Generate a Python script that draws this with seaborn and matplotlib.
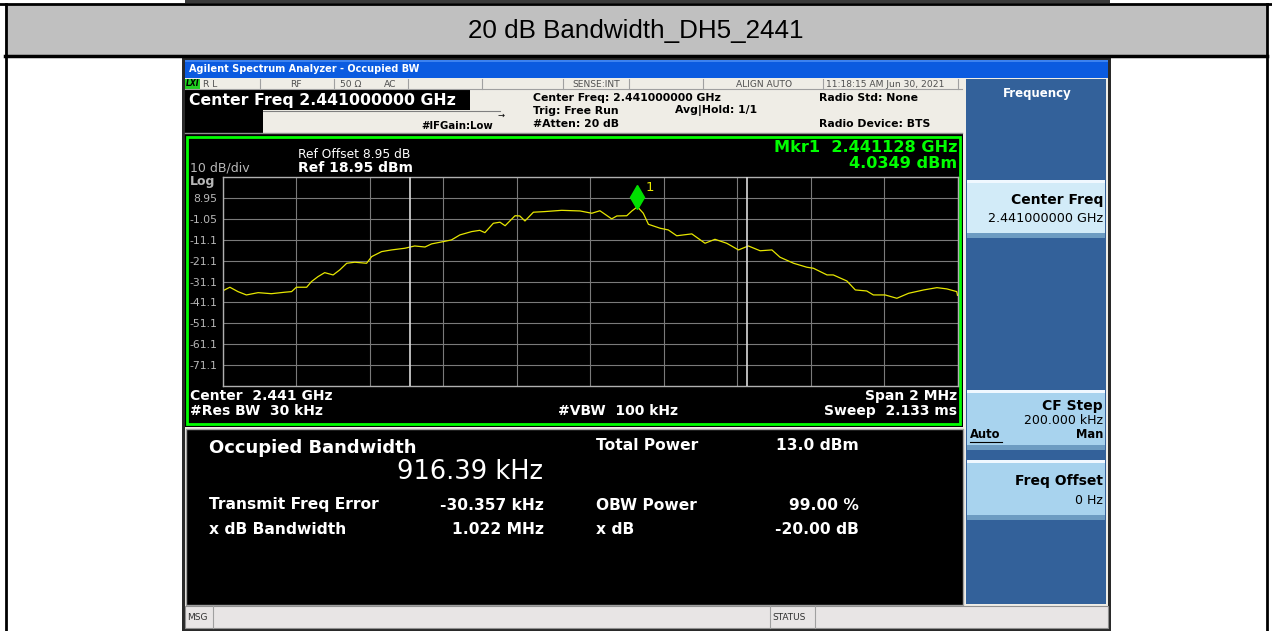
import numpy as np
import pandas as pd
import matplotlib
matplotlib.use("Agg")
import matplotlib.pyplot as plt
import matplotlib.patches as mpatches
import seaborn as sns

# trace (offset from center, MHz / dBm)
freq_offset_mhz = [-1.000, -0.980, -0.958, -0.935, -0.903, -0.867, -0.831, -0.812,
                   -0.799, -0.771, -0.758, -0.740, -0.722, -0.699, -0.681, -0.662,
                   -0.640, -0.608, -0.594, -0.567, -0.540, -0.504, -0.477, -0.449,
                   -0.431, -0.399, -0.377, -0.354, -0.322, -0.300, -0.286, -0.263,
                   -0.245, -0.231, -0.204, -0.191, -0.177, -0.154, -0.123, -0.077,
                   -0.027, 0.005, 0.027, 0.059, 0.073, 0.100, 0.114, 0.129,
                   0.145, 0.159, 0.191, 0.213, 0.236, 0.277, 0.313, 0.340,
                   0.372, 0.404, 0.431, 0.463, 0.495, 0.517, 0.554, 0.590,
                   0.608, 0.645, 0.662, 0.699, 0.722, 0.753, 0.771, 0.803,
                   0.835, 0.867, 0.908, 0.944, 0.971, 0.998, 1.000]
level_dbm = [-35.6, -33.8, -35.9, -37.5, -36.4, -36.9, -36.2, -35.9,
             -33.8, -33.8, -31.1, -28.7, -26.8, -27.9, -25.5, -22.3,
             -21.8, -22.3, -19.1, -16.7, -15.9, -15.1, -14.0, -14.5,
             -13.0, -11.9, -11.1, -8.7, -7.1, -6.5, -7.6, -3.1,
             -2.6, -4.3, 0.5, 0.4, -2.0, 2.2, 2.5, 3.1,
             2.8, 1.7, 2.9, -1.0, 0.4, 0.5, 2.8, 4.8,
             1.7, -3.6, -5.5, -6.3, -9.1, -8.2, -12.7, -10.8,
             -12.7, -15.9, -14.0, -16.3, -15.9, -19.4, -22.3, -24.2,
             -24.7, -27.9, -27.9, -30.8, -35.1, -35.6, -37.5, -37.5,
             -39.1, -36.7, -35.1, -34.0, -34.6, -35.9, -37.7]

center_ghz = 2.441
span_mhz = 2.0
ref_level = 18.95
db_per_div = 10
y_labels = ["8.95", "-1.05", "-11.1", "-21.1", "-31.1", "-41.1", "-51.1", "-61.1", "-71.1"]
marker_offset_mhz = 0.128
marker_level = 4.0349
obw_khz = 916.39
freq_error_khz = -30.357

df = pd.DataFrame({"offset": freq_offset_mhz, "level": level_dbm})

plt.rcParams["font.family"] = ["DejaVu Sans"]

W, H = 1272, 631
fig = plt.figure(figsize=(W / 100, H / 100), dpi=100)
bg = fig.add_axes([0, 0, 1, 1])
bg.set_xlim(0, W)
bg.set_ylim(H, 0)
bg.axis("off")


def rect(x0, y0, x1, y1, fc, ec="none", lw=0, z=1):
    bg.add_patch(mpatches.Rectangle((x0, y0), x1 - x0, y1 - y0, fc=fc, ec=ec, lw=lw, zorder=z))


def txt(x, y, s, size=7, color="black", weight="normal", ha="left", **kw):
    bg.text(x, y, s, fontsize=size, color=color, fontweight=weight, ha=ha, va="center", zorder=10, **kw)


# table cell around the screenshot
rect(0, 0, W, H, "white", z=0)
rect(5, 5, 1267, 55, "#C0C0C0")
bg.plot([0, W], [4, 4], color="black", lw=2, zorder=2)
bg.plot([5, 1267], [55.5, 55.5], color="black", lw=2.5, zorder=2)
bg.plot([5.5, 5.5], [4, H], color="black", lw=2, zorder=2)
bg.plot([1267, 1267], [4, H], color="black", lw=2, zorder=2)
rect(185, 0, 1110, 3, "#3A3A3A", z=2)
bg.text(636, 31, "20 dB Bandwidth_DH5_2441", fontsize=18.7, ha="center", va="center",
        family="Liberation Sans", zorder=10)

# analyzer screenshot
rect(182, 57, 1111, 631, "#2A2A2A", z=1)
rect(185, 60, 1108, 628, "#EFEDE6", z=1)
rect(185, 60, 1108, 78, "#0B5BE0", z=2)
rect(185, 60, 1108, 62, "#3C82F0", z=2)
txt(189, 69, "Agilent Spectrum Analyzer - Occupied BW", size=7, color="white", weight="bold")
rect(185, 79, 200, 89, "#20D020", z=2)
txt(186, 84, "LXI", size=5.5, color="black", weight="bold", style="italic")
for xd in [260, 334, 408, 482, 563, 629, 703, 823, 958]:
    bg.plot([xd, xd], [79, 89], color="#A0A0A0", lw=0.8, zorder=3)
bg.plot([185, 962], [89, 89], color="#A0A0A0", lw=0.8, zorder=3)
for xs, s in [(203, "R L"), (290, "RF"), (340, "50 \u03a9"), (384, "AC"),
              (572, "SENSE:INT"), (736, "ALIGN AUTO"), (826, "11:18:15 AM Jun 30, 2021")]:
    txt(xs, 84.5, s, size=6.6, color="#505050")

rect(185, 90, 470, 110, "black", z=2)
txt(189, 100, "Center Freq 2.441000000 GHz", size=11.3, color="white", weight="bold")
rect(185, 110, 263, 133, "black", z=2)
bg.plot([263, 500], [111, 111], color="#808080", lw=0.8, zorder=3)
txt(421, 126, "#IFGain:Low", size=7.3, weight="bold")
txt(497, 115.5, "\u2192", size=6)
for xs, ys, s in [(533, 98, "Center Freq: 2.441000000 GHz"), (533, 111, "Trig: Free Run"),
                  (533, 124, "#Atten: 20 dB"), (675, 111, "Avg|Hold: 1/1"),
                  (819, 98, "Radio Std: None"), (819, 124, "Radio Device: BTS")]:
    txt(xs, ys, s, size=7.8, weight="bold")
bg.plot([185, 962], [132.5, 132.5], color="#909090", lw=1, zorder=3)

# right soft-key panel
rect(966, 79, 1106, 604, "#33619A", z=2)
txt(1037, 93, "Frequency", size=8.5, color="white", weight="bold", ha="center")
for y0, y1 in [(180, 238), (390, 450), (460, 520)]:
    light = "#D2EBF8" if y0 == 180 else "#A8D3EE"
    rect(967, y0, 1105, y1, light, z=3)
    rect(967, y0, 1105, y0 + 3, "#F0F8FF", z=3)
    rect(967, y1 - 5, 1105, y1, "#6D9CC2", z=3)
txt(1103, 200, "Center Freq", size=10, weight="bold", ha="right")
txt(1103, 219, "2.441000000 GHz", size=9.2, ha="right")
txt(1103, 406, "CF Step", size=10, weight="bold", ha="right")
txt(1103, 421, "200.000 kHz", size=9, ha="right")
txt(970, 435, "Auto", size=8.3, weight="bold")
bg.plot([970, 1002], [441.5, 441.5], color="black", lw=0.8, zorder=10)
txt(1103, 435, "Man", size=8.3, weight="bold", ha="right")
txt(1103, 481, "Freq Offset", size=10, weight="bold", ha="right")
txt(1103, 500, "0 Hz", size=9, ha="right")

# spectrum display
rect(185, 134, 963, 427, "black", z=2)
rect(187, 137, 960, 424, "none", ec="#00FF00", lw=2, z=4)
txt(190, 168, "10 dB/div", size=9, color="#B8B8B8")
txt(190, 181, "Log", size=9, color="#B8B8B8", weight="bold")
txt(298, 155, "Ref Offset 8.95 dB", size=8.8, color="white")
txt(298, 168, "Ref 18.95 dBm", size=10, color="white", weight="bold")
txt(957, 147, "Mkr1  %.6f GHz" % (center_ghz + marker_offset_mhz / 1000), size=11.6,
    color="#00FF00", weight="bold", ha="right")
txt(957, 163.5, "%.4f dBm" % marker_level, size=11.6, color="#00FF00", weight="bold", ha="right")
txt(190, 396, "Center  %.3f GHz" % center_ghz, size=10, color="white", weight="bold")
txt(190, 411, "#Res BW  30 kHz", size=10, color="white", weight="bold")
txt(558, 411, "#VBW  100 kHz", size=10, color="white", weight="bold")
txt(957, 396, "Span %g MHz" % span_mhz, size=10, color="white", weight="bold", ha="right")
txt(957, 411, "Sweep  2.133 ms", size=10, color="white", weight="bold", ha="right")

gx0, gx1, gy0, gy1 = 222.5, 957.5, 177.3, 385.7
ax = fig.add_axes([gx0 / W, 1 - gy1 / H, (gx1 - gx0) / W, (gy1 - gy0) / H], zorder=5)
ax.set_facecolor("none")
sns.lineplot(data=df, x="offset", y="level", ax=ax, color="#E6E600", lw=0.9)
half = span_mhz / 2
bottom = ref_level - 10 * db_per_div
ax.set_xlim(-half, half)
ax.set_ylim(bottom, ref_level)
ax.set_xticks(np.linspace(-half, half, 11))
ax.set_xticklabels([])
yt = [ref_level - db_per_div * (i + 1) for i in range(9)]
ax.set_yticks(yt)
ax.set_yticklabels(y_labels, fontsize=7.8, color="#B8B8B8")
ax.tick_params(axis="y", length=0, pad=3.5)
ax.tick_params(axis="x", length=0)
ax.grid(True, color="#7A7A7A", lw=0.8)
ax.set_axisbelow(True)
for sp in ax.spines.values():
    sp.set_color("#B0B0B0")
    sp.set_linewidth(1)
ax.set_xlabel("")
ax.set_ylabel("")
lo = freq_error_khz / 1000 - obw_khz / 2000
hi = freq_error_khz / 1000 + obw_khz / 2000
for xv in [lo, hi]:
    ax.axvline(xv, color="#DADADA", lw=1.2, zorder=3)
ax.plot([marker_offset_mhz], [marker_level + 5.5], marker="d", ms=12, color="#00E000",
        markeredgecolor="#00E000", zorder=6, clip_on=False)
ax.text(marker_offset_mhz + 0.022, marker_level + 10, "1", color="#E6E600", fontsize=9.5,
        va="center", zorder=6)

# results panel
rect(186, 429, 963, 605, "black", ec="#A0A0A0", lw=1, z=2)
txt(209, 448, "Occupied Bandwidth", size=13, color="white", weight="bold")
txt(543, 472, "%.2f kHz" % obw_khz, size=18.5, color="white", ha="right")
txt(596, 446, "Total Power", size=11.2, color="white", weight="bold")
txt(859, 446, "13.0 dBm", size=11.2, color="white", weight="bold", ha="right")
txt(209, 505, "Transmit Freq Error", size=11.2, color="white", weight="bold")
txt(544, 505, "%.3f kHz" % freq_error_khz, size=11.2, color="white", weight="bold", ha="right")
txt(596, 505, "OBW Power", size=11.2, color="white", weight="bold")
txt(859, 505, "99.00 %", size=11.2, color="white", weight="bold", ha="right")
txt(209, 530, "x dB Bandwidth", size=11.2, color="white", weight="bold")
txt(544, 530, "1.022 MHz", size=11.2, color="white", weight="bold", ha="right")
txt(596, 530, "x dB", size=11.2, color="white", weight="bold")
txt(859, 530, "-20.00 dB", size=11.2, color="white", weight="bold", ha="right")

# status bar
rect(185, 606, 1108, 628, "#E8E5E5", ec="#909090", lw=0.8, z=2)
for xd in [213, 770, 815]:
    bg.plot([xd, xd], [606, 628], color="#A0A0A0", lw=0.8, zorder=3)
txt(187, 617, "MSG", size=6.5, color="#303030")
txt(772, 617, "STATUS", size=6.5, color="#303030")

fig.savefig("out.png", dpi=100)
